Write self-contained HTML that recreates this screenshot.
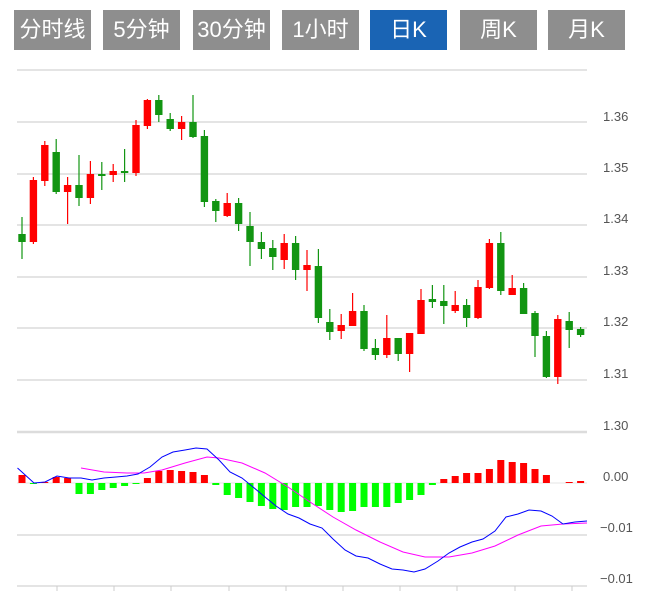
<!DOCTYPE html>
<html><head><meta charset="utf-8">
<style>
body{margin:0;background:#fff;width:647px;height:591px;overflow:hidden;font-family:"Liberation Sans","Noto Sans CJK SC",sans-serif}
.b{position:absolute;top:10px;height:40px;width:77px;background:#8e8e8e;color:#fff;font-size:22px;line-height:40px;text-align:center}
.b.on{background:#1a64b4}
svg{position:absolute;left:0;top:0}
</style></head><body>
<div class="b" style="left:14px">分时线</div>
<div class="b" style="left:103px">5分钟</div>
<div class="b" style="left:193px">30分钟</div>
<div class="b" style="left:282px">1小时</div>
<div class="b on" style="left:370px">日K</div>
<div class="b" style="left:460px">周K</div>
<div class="b" style="left:548px">月K</div>
<svg id="s" width="647" height="591" xmlns="http://www.w3.org/2000/svg" font-family="Liberation Sans, sans-serif" font-size="13" fill="#555">
<g stroke="#dcdcdc" stroke-width="1.5">
<line x1="17" y1="70" x2="587" y2="70"/>
<line x1="17" y1="122" x2="587" y2="122"/>
<line x1="17" y1="174" x2="587" y2="174"/>
<line x1="17" y1="225" x2="587" y2="225"/>
<line x1="17" y1="277" x2="587" y2="277"/>
<line x1="17" y1="328" x2="587" y2="328"/>
<line x1="17" y1="380" x2="587" y2="380"/>
<line x1="17" y1="432" x2="587" y2="432" stroke-width="2.5"/>
<line x1="17" y1="535" x2="587" y2="535"/>
<line x1="17" y1="586" x2="587" y2="586"/>
</g>
<line x1="17" y1="483" x2="587" y2="483" stroke="#e6e6e6"/>
<g stroke="#ccc"><line x1="57" y1="586" x2="57" y2="591"/><line x1="114" y1="586" x2="114" y2="591"/><line x1="171" y1="586" x2="171" y2="591"/><line x1="229" y1="586" x2="229" y2="591"/><line x1="286" y1="586" x2="286" y2="591"/><line x1="343" y1="586" x2="343" y2="591"/><line x1="400" y1="586" x2="400" y2="591"/><line x1="457" y1="586" x2="457" y2="591"/><line x1="515" y1="586" x2="515" y2="591"/><line x1="572" y1="586" x2="572" y2="591"/></g>
<g>
<text x="603" y="121">1.36</text><text x="603" y="172">1.35</text><text x="603" y="223">1.34</text><text x="603" y="275">1.33</text><text x="603" y="326">1.32</text><text x="603" y="378">1.31</text><text x="603" y="430">1.30</text>
<text x="603" y="481">0.00</text><text x="600" y="532">−0.01</text><text x="600" y="583">−0.01</text>
</g>
<g id="c"></g>
</svg>
<script>
var d=[[234,242,217,259],[242,180,177,244],[181,145,141,186],[152,192,139,194],[192,185,177,224],[185,198,155,206],[198,174,161,204],[174,176,162,190],[175,171,164,182],[171,173,149,182],[173,125,120,176],[126,100,99,129],[100,115,95,122],[119,129,113,131],[129,122,116,140],[122,137,95,138],[136,202,130,207],[201,211,199,222],[216,203,193,217],[203,224,198,231],[226,242,212,266],[242,249,232,259],[248,257,240,270],[260,243,234,269],[243,270,236,280],[270,265,250,291],[266,318,249,323],[322,332,309,340],[331,325,314,339],[326,311,293,326],[311,349,305,351],[348,355,339,360],[355,338,315,358],[338,354,338,361],[354,333,333,372],[334,300,289,334],[299,302,285,308],[301,306,285,324],[311,305,291,313],[305,318,299,327],[318,287,280,319],[288,243,239,289],[243,291,232,295],[295,288,275,295],[288,314,283,314],[313,336,311,357],[336,377,331,378],[377,319,315,384],[321,330,312,348],[329,335,327,337]];
var m=[8,-1,1,6,5,-11,-11,-7,-5,-3,-1,5,12,13,12,11,8,-2,-12,-15,-19,-23,-26,-27,-24,-24,-23,-27,-29,-28,-24,-24,-24,-20,-17,-12,-2,4,7,10,10,14,23,21,20,14,8,0,1,2];
var s='';
for(var i=0;i<50;i++){var x=22+i*11.4,o=d[i][0],c=d[i][1],up=c<o,col=up?'#f00':'#129512';
s+='<line x1="'+x+'" y1="'+d[i][2]+'" x2="'+x+'" y2="'+d[i][3]+'" stroke="'+col+'" stroke-width="1.2"/>';
var t=Math.min(o,c),h=Math.max(Math.abs(o-c),1.5);
s+='<rect x="'+(x-3.7)+'" y="'+t+'" width="7.4" height="'+h+'" fill="'+col+'"/>';
var v=m[i];if(v){s+='<rect x="'+(x-3.5)+'" y="'+(v>0?483-v:483)+'" width="7" height="'+Math.abs(v)+'" fill="'+(v>0?'#f00':'#0f0')+'"/>';}}
var dif="17.5,468 34,483 45,482 57,476 69,478 81,478 92,480 104,478 116,477 127,476 138,474 150,467 162,457 173,452 185,450 196,448 207,449 219,460 230,472 242,478 253,487 265,497 276,506 288,514 299,518 310,524 322,528 333,539 345,550 356,556 368,558 380,564 392,569 403,570 414,572 425,569 438,561 449,553 460,547 472,542 483,539 495,531 506,517 518,514 529,510 541,511 552,516 563,524 575,522 587,521";
var dea="81,468 104,472 127,473 144,473 162,470 185,463 207,457 219,458 242,463 265,473 288,487 310,502 333,517 356,530 380,542 403,552 425,557 449,557 472,553 495,546 518,535 541,526 563,524 587,523";
s+='<polyline points="'+dea+'" fill="none" stroke="#f0f" stroke-width="1"/>';
s+='<polyline points="'+dif+'" fill="none" stroke="#00f" stroke-width="1"/>';
document.getElementById('c').innerHTML=s;
</script>
</body></html>
